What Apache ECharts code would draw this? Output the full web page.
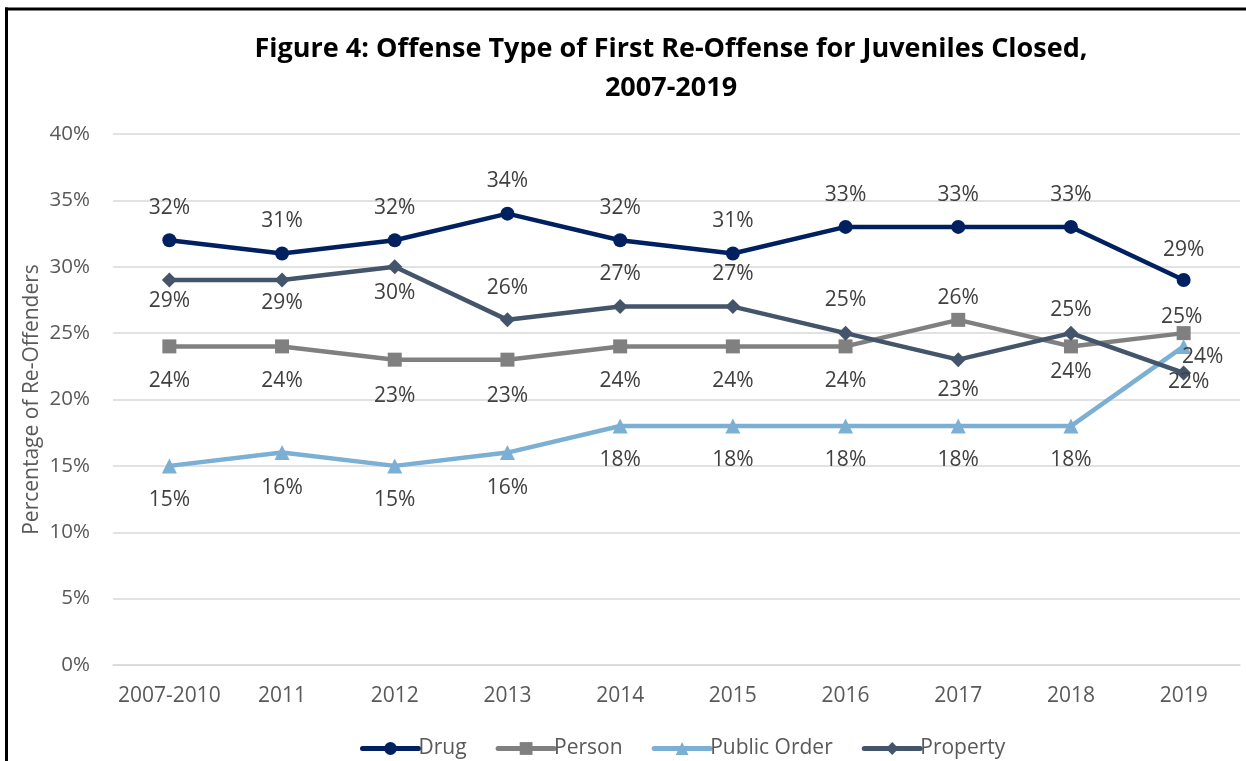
<!DOCTYPE html>
<html>
<head>
<meta charset="utf-8">
<script src="https://cdn.jsdelivr.net/npm/echarts@6/dist/echarts.min.js"></script>
<style>
  html, body { margin: 0; padding: 0; background: #fff; }
  #chart { width: 1246px; height: 761px; }
</style>
</head>
<body>
<div id="chart"></div>
<script>
// Offense type of first re-offense, percent of re-offenders per closing year
const years = ['2007-2010', '2011', '2012', '2013', '2014', '2015', '2016', '2017', '2018', '2019'];
const drug        = [32, 31, 32, 34, 32, 31, 33, 33, 33, 29];
const person      = [24, 24, 23, 23, 24, 24, 24, 26, 24, 25];
const publicOrder = [15, 16, 15, 16, 18, 18, 18, 18, 18, 24];
const property    = [29, 29, 30, 26, 27, 27, 25, 23, 25, 22];
const yTicks = [0, 5, 10, 15, 20, 25, 30, 35, 40];

// Label placement around each marker: [dx, dy] from the marker centre
const labelOffsets = {
  Drug:           [[0,-32],[0,-32],[0,-32],[0,-33],[0,-32],[0,-32],[0,-32],[0,-32],[0,-32],[0,-30]],
  Person:         [[0,35],[0,35],[0,36],[0,36],[0,35],[0,35],[0,35],[0,-22],[0,26],[-2,-16]],
  'Public Order': [[0,34],[0,35],[0,34],[0,35],[0,34],[0,34],[0,34],[0,34],[0,34],[19,11]],
  Property:       [[0,21],[0,23],[0,26],[0,-32],[0,-33],[0,-33],[0,-33],[0,30],[0,-23],[5,9]]
};

const FONT = '"Open Sans", sans-serif';
const LABEL_COLOR = '#404040';
const AXIS_COLOR = '#595959';
const TEXT_SIZE = 21;

function makeSeries(name, values, color, symbol, symbolSize) {
  return {
    name: name,
    type: 'line',
    data: values.map((v, i) => ({
      value: v,
      label: { offset: labelOffsets[name][i] }
    })),
    symbol: symbol,
    symbolSize: symbolSize,
    lineStyle: { color: color, width: 4.5 },
    itemStyle: { color: color },
    label: {
      show: true,
      position: 'inside',
      formatter: p => p.value + '%',
      color: LABEL_COLOR,
      fontFamily: FONT,
      fontSize: TEXT_SIZE
    },
    emphasis: { disabled: true },
    z: 2
  };
}

const chart = echarts.init(document.getElementById('chart'), null, { renderer: 'canvas' });

chart.setOption({
  animation: false,
  backgroundColor: '#fff',
  textStyle: { fontFamily: FONT },
  title: {
    text: 'Figure 4: Offense Type of First Re-Offense for Juveniles Closed,\n2007-2019',
    left: 666,
    top: 25,
    textAlign: 'center',
    textStyle: {
      fontFamily: FONT,
      fontWeight: 'bold',
      fontSize: 27,
      lineHeight: 39,
      color: '#000'
    }
  },
  grid: { left: 113, right: 6, top: 134, bottom: 96, containLabel: false },
  xAxis: {
    type: 'category',
    data: years,
    boundaryGap: true,
    axisLine: { show: true, lineStyle: { color: '#d9d9d9', width: 1.5 } },
    axisTick: { show: false },
    axisLabel: { interval: 0, color: AXIS_COLOR, fontFamily: FONT, fontSize: TEXT_SIZE, margin: 21 }
  },
  yAxis: {
    type: 'value',
    min: yTicks[0],
    max: yTicks[yTicks.length - 1],
    interval: yTicks[1] - yTicks[0],
    name: 'Percentage of Re-Offenders',
    nameLocation: 'middle',
    nameGap: 70,
    nameMoveOverlap: false,
    nameTextStyle: { color: AXIS_COLOR, fontFamily: FONT, fontSize: TEXT_SIZE },
    axisLine: { show: false },
    axisTick: { show: false },
    axisLabel: { color: AXIS_COLOR, fontFamily: FONT, fontSize: 20.5, margin: 23, formatter: v => v + '%' },
    splitLine: { lineStyle: { color: '#d9d9d9', width: 1.5 } }
  },
  legend: {
    top: 733,
    left: 355,
    itemWidth: 56,
    itemHeight: 16,
    itemGap: 29,
    lineStyle: { width: 5, cap: 'round' },
    textStyle: { color: AXIS_COLOR, fontFamily: FONT, fontSize: TEXT_SIZE, padding: [0, 0, 0, -5] },
    data: ['Drug', 'Person', 'Public Order', 'Property']
  },
  series: [
    makeSeries('Drug', drug, '#002060', 'circle', 14),
    makeSeries('Person', person, '#808080', 'rect', 14),
    makeSeries('Public Order', publicOrder, '#7bafd4', 'triangle', 15),
    makeSeries('Property', property, '#44546a', 'diamond', 15)
  ],
  graphic: [
    { type: 'line', shape: { x1: 6.5, y1: 7.5, x2: 6.5, y2: 761 }, style: { stroke: '#000', lineWidth: 3 }, z: 10 },
    { type: 'line', shape: { x1: 5, y1: 9, x2: 1246, y2: 9 }, style: { stroke: '#000', lineWidth: 3 }, z: 10 }
  ]
});
</script>
</body>
</html>
